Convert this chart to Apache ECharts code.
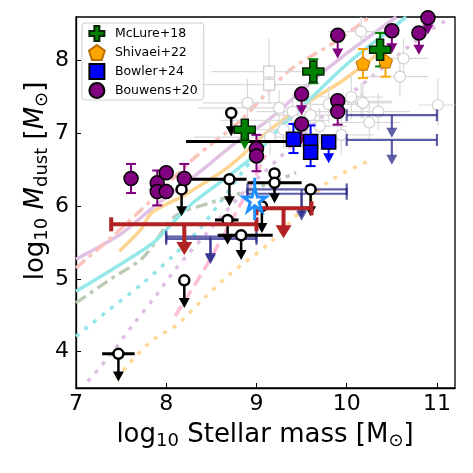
<!DOCTYPE html>
<html><head><meta charset="utf-8">
<script src="https://cdn.jsdelivr.net/npm/echarts@6/dist/echarts.min.js"></script>
<style>html,body{margin:0;padding:0;background:#fff}#c{width:473px;height:473px}</style>
</head><body><div id="c"></div>
<script>
const xTicks = [7, 8, 9, 10, 11];
const yTicks = [4, 5, 6, 7, 8];

// model curves [log Mstar, log Mdust]
const curveSalmonDashDot = [[7.0,5.15],[7.4,5.58],[7.85,6.1],[8.3,6.65],[8.8,7.15],[9.15,7.6],[9.4,7.9],[9.9,8.28],[10.25,8.6]];
const curvePlumSolid = [[7.0,5.27],[7.5,5.62],[7.85,5.98],[8.3,6.4],[8.8,6.9],[9.15,7.2],[9.6,7.7],[10.0,8.1],[10.55,8.6]];
const curveCyanSolid = [[7.0,4.83],[7.4,5.13],[7.85,5.49],[8.1,5.81],[8.3,6.05],[8.6,6.33],[9.0,6.72],[9.2,7.0],[9.6,7.48],[10.0,7.95],[10.3,8.25],[10.66,8.6]];
const curveOrangeSolid = [[7.48,5.38],[7.72,5.68],[7.84,5.91],[8.2,6.15],[8.7,6.55],[9.15,7.05],[9.6,7.45],[9.95,7.72],[10.3,8.05],[10.45,8.2]];
const curveGreenDashDot = [[7.0,4.67],[7.4,5.01],[7.74,5.29],[8.1,5.86],[8.5,6.05],[9.0,6.25],[9.44,6.46]];
const curveCyanDot = [[7.0,4.21],[7.37,4.58],[7.74,4.94],[8.07,5.31],[8.33,5.63],[8.59,6.04],[8.85,6.48],[9.2,7.0],[9.6,7.55]];
const curvePlumDot = [[7.13,3.59],[7.37,3.94],[7.62,4.35],[7.88,4.76],[8.1,5.13],[8.5,5.7],[8.9,6.25],[9.2,6.6],[9.7,7.2],[10.26,7.76],[10.9,8.4],[11.1,8.55]];
const curveOrangeDot = [[7.45,3.62],[7.59,3.84],[7.85,4.16],[8.1,4.35],[8.4,4.71],[8.72,5.08],[9.15,5.5],[9.5,5.95],[9.78,6.32],[10.24,6.62]];
const curvePinkDash = [[8.1,4.49],[8.44,5.17],[8.7,5.75],[8.9,6.2],[9.1,6.7]];

// rows: [x, y, xLow, xHigh, yLow, yHigh, arrowTo]
const N = null;
const grayCircles = [
  [8.9,7.42,8.4,9.3,7.1,7.75,N],[10.16,8.4,9.8,10.5,8.2,8.6,N],[10.63,8.03,10.3,10.9,7.8,8.3,N],
  [10.59,7.78,10.2,10.9,7.5,8.0,N],[11.01,7.39,10.8,11.2,7.1,7.75,N],[10.05,7.5,9.7,10.4,7.2,7.8,N],
  [10.16,7.44,9.9,10.5,7.2,7.7,N],[9.6,7.25,9.2,9.9,7.0,7.5,N],[10.18,7.42,9.8,10.5,7.2,7.7,N],
  [9.94,6.98,9.6,10.3,6.7,7.25,N],[9.3,7.05,8.9,9.6,6.8,7.3,N],[9.7,7.1,9.4,10.0,6.85,7.35,N],
  [10.35,7.3,10.0,10.7,7.05,7.55,N],[9.4,7.3,9.0,9.8,7.1,7.55,N],[9.8,7.4,9.5,10.1,7.15,7.65,N],
  [9.25,7.35,8.35,9.6,7.1,7.6,N],[9.45,7.18,8.6,9.8,6.95,7.4,N],[9.15,6.95,8.3,9.5,6.7,7.2,N],
  [9.55,6.9,9.1,9.9,6.65,7.15,N],[10.25,7.15,9.9,10.6,6.9,7.4,N]
];
const graySquares = [[9.14,7.85,8.5,9.5,7.5,8.3,N],[9.14,7.67,8.3,9.6,7.4,7.95,N]];
const mclure = [[8.87,7.05,N,N,N,N,6.78],[9.63,7.85,N,N,7.69,8.02,N],[10.37,8.15,N,N,7.92,8.38,N]];
const shivaei = [[10.18,7.96,N,N,7.76,8.16,N],[10.43,7.99,N,N,7.78,8.15,N]];
const bowler = [[9.41,6.92,N,N,6.73,7.13,N],[9.6,6.89,N,N,N,7.11,N],[9.6,6.74,N,N,6.55,N,N],[9.8,6.88,N,N,N,N,6.59]];
const bouwens = [
  [9.9,8.35,N,N,N,N,8.03],[10.5,8.41,N,N,N,N,8.1],[10.8,8.38,N,N,N,N,8.08],[10.9,8.59,N,N,N,N,8.36],
  [9.5,7.54,N,N,N,N,7.25],[9.5,7.13,N,N,N,N,6.85],[9.9,7.45,N,N,N,N,N],[9.9,7.3,N,N,7.12,N,N],
  [9.0,6.79,N,N,N,6.98,N],[9.0,6.69,N,N,6.48,N,N],
  [7.61,6.38,N,N,6.18,6.58,N],[7.9,6.32,N,N,N,6.49,N],[7.9,6.2,N,N,6.01,N,N],
  [8.0,6.46,N,N,N,N,N],[8.0,6.2,N,N,N,N,N],[8.2,6.38,N,N,N,6.58,N]
];
const openLimits = [
  [8.72,7.28,N,N,N,N,6.96],[8.7,6.37,8.2,8.89,N,N,6.0],[9.2,6.45,N,N,N,N,6.2],[9.2,6.32,8.9,9.5,N,N,6.04],
  [8.17,6.23,N,N,N,N,5.86],[9.6,6.23,N,N,N,N,5.86],[8.68,5.81,8.54,8.8,N,N,5.47],[8.83,5.6,8.57,9.18,N,N,5.26],
  [7.47,3.97,7.29,7.65,N,N,3.59],[8.2,4.98,N,N,N,N,4.6],[9.06,6.0,N,N,N,N,5.63]
];
const blackBars = [[8.8,6.89,8.22,9.33,N,N,N]];
const redLimits = [[8.2,5.75,7.39,9.0,N,N,5.33],[9.3,5.97,9.0,9.61,N,N,5.56]];
const navyLimits = [
  [8.49,5.58,8.0,9.0,N,N,5.22],[8.49,5.55,8.0,9.0,N,N,5.2],[9.5,6.23,8.9,10.0,N,N,5.84],[9.5,6.17,8.9,10.0,N,N,5.8],
  [10.5,7.25,10.0,11.0,N,N,6.94],[10.5,6.91,10.0,11.0,N,N,6.57]
];
const starPt = [[8.98,6.09,N,N,5.81,6.39,N]];

function errRender(rows, st) {
  return function (params, api) {
    const r = rows[params.dataIndex];
    const c = api.coord([r[0], r[1]]);
    const ch = [];
    const ls = {stroke: st.color, lineWidth: st.lw, opacity: st.op == null ? 1 : st.op};
    const line = (a, b, s) => ch.push({type: 'line', shape: {x1: a[0], y1: a[1], x2: b[0], y2: b[1]}, style: s || ls});
    if (r[2] != null) {
      const a = api.coord([r[2], r[1]]), b = api.coord([r[3], r[1]]);
      line(a, b);
      if (st.cap) { line([a[0], a[1] - st.cap], [a[0], a[1] + st.cap]); line([b[0], b[1] - st.cap], [b[0], b[1] + st.cap]); }
    }
    if (r[4] != null || r[5] != null) {
      const lo = api.coord([r[0], r[4] != null ? r[4] : r[1]]);
      const hi = api.coord([r[0], r[5] != null ? r[5] : r[1]]);
      line(lo, hi);
      if (st.cap) {
        if (r[4] != null) line([lo[0] - st.cap, lo[1]], [lo[0] + st.cap, lo[1]]);
        if (r[5] != null) line([hi[0] - st.cap, hi[1]], [hi[0] + st.cap, hi[1]]);
      }
    }
    if (r[6] != null) {
      const e = api.coord([r[0], r[6]]);
      line(c, [e[0], e[1] - st.hl + 1], Object.assign({}, ls, {lineWidth: st.alw || st.lw}));
      ch.push({type: 'polygon', shape: {points: [[e[0] - st.hw, e[1] - st.hl], [e[0] + st.hw, e[1] - st.hl], [e[0], e[1]]]},
        style: {fill: st.color, opacity: st.op == null ? 1 : st.op}});
    }
    return {type: 'group', children: ch};
  };
}
function errSeries(rows, st, z) {
  return {type: 'custom', silent: true, z: z, renderItem: errRender(rows, st), data: rows.map(r => [r[0], r[1]]), clip: false};
}
function curve(data, color, dash, lw) {
  return {type: 'line', data: data, smooth: 0.3, symbol: 'none', silent: true, z: 1,
    lineStyle: {color: color, width: lw || 3.5, type: dash || 'solid', cap: 'butt'}};
}
const crossPath = 'path://M-1,-3L1,-3L1,-1L3,-1L3,1L1,1L1,3L-1,3L-1,1L-3,1L-3,-1L-1,-1Z';
const pentPath = 'path://M0,-1L0.951,-0.309L0.588,0.809L-0.588,0.809L-0.951,-0.309Z';
const squarePath = 'path://M0,0L1,0L1,1L0,1Z';
const font = 'DejaVu Sans';

const chart = echarts.init(document.getElementById('c'));
chart.setOption({
  animation: false,
  backgroundColor: '#fff',
  grid: {left: 76, right: 18, top: 17, bottom: 85, show: true, borderColor: '#000', borderWidth: 1.3, backgroundColor: 'transparent'},
  xAxis: {type: 'value', min: 7, max: 11.2, splitLine: {show: false},
    axisLine: {show: true, onZero: false, lineStyle: {color: '#000', width: 1.3}},
    axisTick: {show: true, inside: true, length: 5, customValues: xTicks, lineStyle: {color: '#000', width: 1}},
    axisLabel: {customValues: xTicks, fontSize: 22, color: '#000', fontFamily: font, margin: 5}},
  yAxis: {type: 'value', min: 3.5, max: 8.6, splitLine: {show: false},
    axisLine: {show: true, onZero: false, lineStyle: {color: '#000', width: 1.3}},
    axisTick: {show: true, inside: true, length: 5, customValues: yTicks, lineStyle: {color: '#000', width: 1}},
    axisLabel: {customValues: yTicks, fontSize: 22, color: '#000', fontFamily: font, margin: 7}},
  legend: {left: 82, top: 23, orient: 'vertical', itemWidth: 26, itemHeight: 15, itemGap: 2,
    padding: [2, 6, 1, 6], backgroundColor: 'rgba(255,255,255,0.85)', borderColor: '#cccccc', borderWidth: 1, borderRadius: 3,
    textStyle: {fontSize: 12.5, fontFamily: font, color: '#000'},
    data: ['McLure+18', 'Shivaei+22', 'Bowler+24', 'Bouwens+20']},
  graphic: [
    {type: 'text', x: 265, y: 435, silent: true, style: {
      text: '{n|log}{s|10}{n| Stellar mass [M}{s|⊙}{n|]}', align: 'center', verticalAlign: 'middle',
      rich: {n: {fontSize: 26, fontFamily: font, fill: '#000', lineHeight: 30},
             s: {fontSize: 18, fontFamily: font, fill: '#000', lineHeight: 18, verticalAlign: 'bottom'}}}},
    {type: 'text', x: 36, y: 181, rotation: Math.PI / 2, silent: true, style: {
      text: '{n|log}{s|10}{n| }{i|M}{s|dust}{n| [}{i|M}{s|⊙}{n|]}', align: 'center', verticalAlign: 'middle',
      rich: {n: {fontSize: 26, fontFamily: font, fill: '#000', lineHeight: 30},
             i: {fontSize: 26, fontFamily: font, fontStyle: 'italic', fill: '#000', lineHeight: 30},
             s: {fontSize: 18, fontFamily: font, fill: '#000', lineHeight: 18, verticalAlign: 'bottom'}}}}
  ],
  series: [
    curve(curvePinkDash, '#ffbcd8', [12, 6]),
    curve(curveOrangeDot, '#ffd895', [4, 7]),
    curve(curvePlumDot, '#dfc0e4', [4, 7]),
    curve(curveCyanDot, '#91e5ea', [4, 7]),
    curve(curveGreenDashDot, '#bccbb5', [12, 5, 4, 5]),
    curve(curveOrangeSolid, '#ffd490'),
    curve(curveCyanSolid, '#94e8e8'),
    curve(curvePlumSolid, '#e1c2e4'),
    curve(curveSalmonDashDot, '#fcc3bb', [12, 5, 4, 5]),
    errSeries(grayCircles, {color: '#d9d9d9', lw: 1.2}, 2),
    errSeries(graySquares, {color: '#d9d9d9', lw: 1.2}, 2),
    {type: 'scatter', silent: true, z: 3, data: grayCircles.map(r => [r[0], r[1]]), symbol: 'circle', symbolSize: 11,
      itemStyle: {color: '#fff', borderColor: '#d0d0d0', borderWidth: 1.2, opacity: 1}},
    {type: 'scatter', silent: true, z: 3, data: graySquares.map(r => [r[0], r[1]]), symbol: 'rect', symbolSize: 11,
      itemStyle: {color: '#fff', borderColor: '#d0d0d0', borderWidth: 1.2, opacity: 1}},
    errSeries(navyLimits, {color: '#2a2a8c', lw: 2.2, op: 0.75, cap: 6, hw: 5.5, hl: 10}, 4),
    errSeries(blackBars, {color: '#000', lw: 3}, 5),
    errSeries(openLimits, {color: '#000', lw: 3, alw: 2.5, hw: 5.5, hl: 10}, 5),
    {type: 'scatter', silent: true, z: 6, data: openLimits.map(r => [r[0], r[1]]), symbol: 'circle', symbolSize: 10,
      itemStyle: {color: '#fff', borderColor: '#000', borderWidth: 2.5, opacity: 1}},
    errSeries(redLimits, {color: '#b22222', lw: 4, cap: 7, hw: 8, hl: 13}, 7),
    errSeries(starPt, {color: '#1e90ff', lw: 3}, 7),
    {type: 'scatter', silent: true, z: 8, data: starPt.map(r => [r[0], r[1]]), symbol: 'path://M0,-1L0.2245,-0.309L0.951,-0.309L0.363,0.118L0.588,0.809L0,0.382L-0.588,0.809L-0.363,0.118L-0.951,-0.309L-0.2245,-0.309Z', symbolSize: 23,
      itemStyle: {color: '#fff', borderColor: '#1e90ff', borderWidth: 3, opacity: 1}},
    errSeries(bouwens, {color: '#800080', lw: 2, cap: 5, hw: 5.5, hl: 10}, 9),
    errSeries(bowler, {color: '#0000ff', lw: 2, cap: 5, hw: 5.5, hl: 10}, 9),
    errSeries(shivaei, {color: '#ffa500', lw: 2, cap: 5}, 9),
    errSeries(mclure, {color: '#008000', lw: 2, cap: 5, hw: 5.5, hl: 10}, 9),
    {type: 'scatter', name: 'Bouwens+20', z: 10, data: bouwens.map(r => [r[0], r[1]]), symbol: 'circle', symbolSize: 14,
      itemStyle: {color: '#800080', borderColor: '#000', borderWidth: 1.5, opacity: 1}},
    {type: 'scatter', name: 'Bowler+24', z: 10, data: bowler.map(r => [r[0], r[1]]), symbol: squarePath, symbolSize: 14, symbolKeepAspect: true,
      itemStyle: {color: '#0000ff', borderColor: '#000', borderWidth: 1.5, opacity: 1}},
    {type: 'scatter', name: 'Shivaei+22', z: 10, data: shivaei.map(r => [r[0], r[1]]), symbol: pentPath, symbolSize: 14, symbolKeepAspect: true,
      itemStyle: {color: '#ffa500', borderColor: '#b86e00', borderWidth: 1, opacity: 1}},
    {type: 'scatter', name: 'McLure+18', z: 10, data: mclure.map(r => [r[0], r[1]]), symbol: crossPath, symbolSize: 21, symbolKeepAspect: true,
      itemStyle: {color: '#008000', borderColor: '#062406', borderWidth: 1.5, opacity: 1}}
  ]
});
</script></body></html>
